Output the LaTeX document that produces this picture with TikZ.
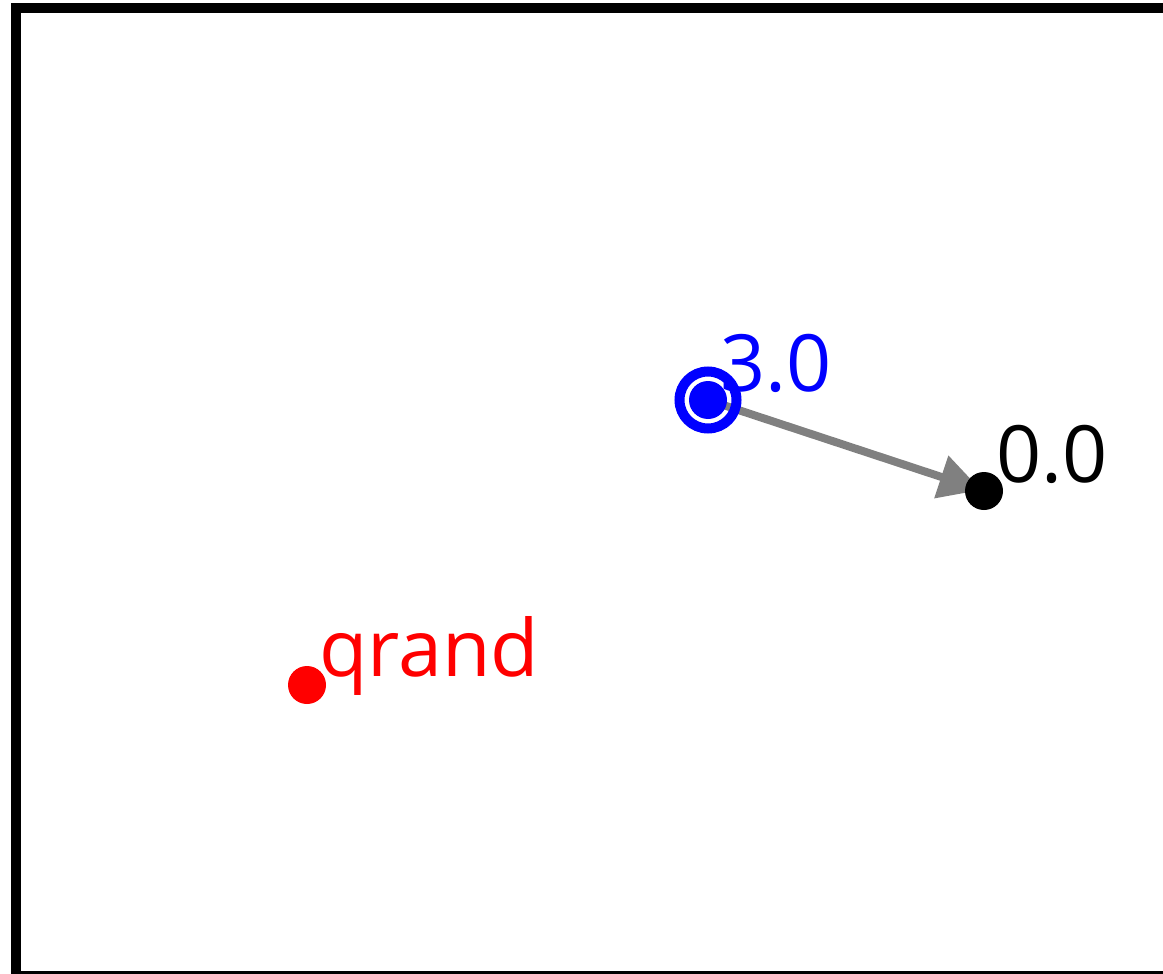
\documentclass[tikz,border=0pt]{standalone}
\usepackage{fontspec}
\setmainfont{Open Sans}
\usetikzlibrary{arrows.meta}
\definecolor{edgegray}{RGB}{128,128,128}
\definecolor{pureblue}{RGB}{0,0,255}
\definecolor{purered}{RGB}{255,0,0}
\pgfdeclarelayer{back}
\pgfsetlayers{back,main}
\begin{document}
\begin{tikzpicture}[x=1pt,y=-1pt,
  dot/.style={circle,fill=#1,draw=none,minimum size=38pt,inner sep=0pt},
  ring/.style={circle,draw=#1,line width=10pt,minimum size=57pt,inner sep=0pt,fill=none},
  lbl/.style={anchor=base west,inner sep=0pt,text=#1,
    font=\fontsize{79}{90}\selectfont,xshift=12pt,yshift=9pt},
  link/.style={draw=edgegray,line width=8pt,shorten >=3pt,
    -{Triangle[length=42pt,width=43pt]}}]
  \useasboundingbox (0,0) rectangle (1163,974);
  % outer frame, partly running off the page
  \begin{scope}
    \clip (0,0) rectangle (1163,974);
    \draw[line width=9.5pt] (16,8) rectangle (1175,975.5);
  \end{scope}
  % vertices
  \node[dot=pureblue] (start) at (708,400) {};
  \node[ring=pureblue] (startring) at (708,400) {};
  \node[dot=black] (goal) at (984,491) {};
  \node[dot=purered] (rand) at (307,685) {};
  % labels
  \node[lbl=pureblue] (startlbl) at (start.center) {3.0};
  \node[lbl=black] (goallbl) at (goal.center) {0.0};
  \node[lbl=purered] (randlbl) at (rand.center) {qrand};
  % tree edge
  \begin{pgfonlayer}{back}
    \draw[link] (start.center) -- (goal.center);
  \end{pgfonlayer}
\end{tikzpicture}
\end{document}
